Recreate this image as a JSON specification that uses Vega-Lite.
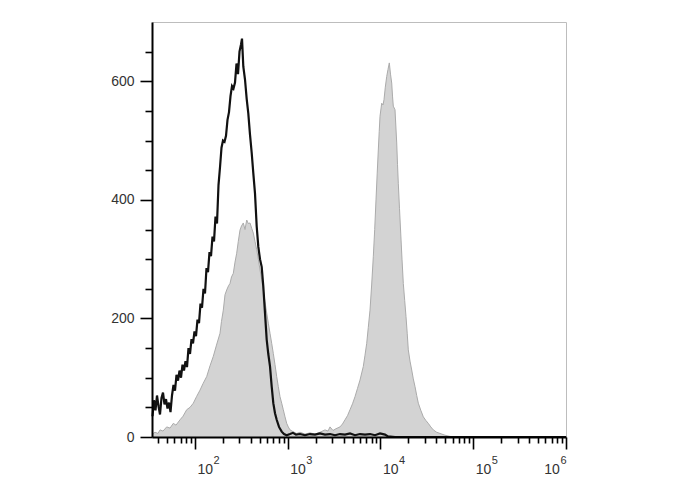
{
  "$schema": "https://vega.github.io/schema/vega-lite/v6.json",
  "autosize": "none",
  "width": 414,
  "height": 415,
  "padding": {"left": 152, "top": 22, "right": 122, "bottom": 53},
  "background": "white",
  "config": {
    "view": {"stroke": "#bdbdbd", "strokeWidth": 1},
    "axis": {"grid": false, "title": null, "labelFont": "Liberation Sans", "labelColor": "#333333", "domainColor": "#000000", "tickColor": "#000000", "labelOverlap": false, "labelBound": false, "labelFlush": false}
  },
  "datasets": {
    "gray": [
      {"log10_fl": 1.5418, "count": 5}, {"log10_fl": 1.5687, "count": 8}, {"log10_fl": 1.6011, "count": 6}, {"log10_fl": 1.6227, "count": 12},
      {"log10_fl": 1.655, "count": 10}, {"log10_fl": 1.6949, "count": 17}, {"log10_fl": 1.7305, "count": 15}, {"log10_fl": 1.7661, "count": 23},
      {"log10_fl": 1.7952, "count": 20}, {"log10_fl": 1.8383, "count": 29}, {"log10_fl": 1.8706, "count": 35}, {"log10_fl": 1.9105, "count": 46},
      {"log10_fl": 1.9461, "count": 50}, {"log10_fl": 1.9817, "count": 57}, {"log10_fl": 2.0162, "count": 68}, {"log10_fl": 2.0539, "count": 79},
      {"log10_fl": 2.0863, "count": 90}, {"log10_fl": 2.1262, "count": 102}, {"log10_fl": 2.1618, "count": 120}, {"log10_fl": 2.1973, "count": 136},
      {"log10_fl": 2.2318, "count": 155}, {"log10_fl": 2.2696, "count": 175}, {"log10_fl": 2.2857, "count": 195}, {"log10_fl": 2.3052, "count": 214},
      {"log10_fl": 2.3235, "count": 240}, {"log10_fl": 2.3418, "count": 248}, {"log10_fl": 2.3612, "count": 255}, {"log10_fl": 2.3774, "count": 259},
      {"log10_fl": 2.3936, "count": 270}, {"log10_fl": 2.413, "count": 276}, {"log10_fl": 2.4313, "count": 295}, {"log10_fl": 2.4496, "count": 310},
      {"log10_fl": 2.4669, "count": 330}, {"log10_fl": 2.4852, "count": 349}, {"log10_fl": 2.5014, "count": 356}, {"log10_fl": 2.5208, "count": 361},
      {"log10_fl": 2.5391, "count": 350}, {"log10_fl": 2.5575, "count": 366}, {"log10_fl": 2.5747, "count": 360}, {"log10_fl": 2.593, "count": 361},
      {"log10_fl": 2.6114, "count": 352}, {"log10_fl": 2.6286, "count": 344}, {"log10_fl": 2.6469, "count": 330}, {"log10_fl": 2.6653, "count": 316},
      {"log10_fl": 2.6825, "count": 300}, {"log10_fl": 2.7009, "count": 282}, {"log10_fl": 2.7192, "count": 265}, {"log10_fl": 2.7364, "count": 248},
      {"log10_fl": 2.7548, "count": 228}, {"log10_fl": 2.7731, "count": 209}, {"log10_fl": 2.7903, "count": 192}, {"log10_fl": 2.8087, "count": 175},
      {"log10_fl": 2.827, "count": 158}, {"log10_fl": 2.8443, "count": 141}, {"log10_fl": 2.8626, "count": 122}, {"log10_fl": 2.8809, "count": 102},
      {"log10_fl": 2.8982, "count": 85}, {"log10_fl": 2.9165, "count": 68}, {"log10_fl": 2.9348, "count": 57}, {"log10_fl": 2.9521, "count": 46},
      {"log10_fl": 2.9704, "count": 34}, {"log10_fl": 2.9887, "count": 23}, {"log10_fl": 3.006, "count": 17}, {"log10_fl": 3.0243, "count": 12},
      {"log10_fl": 3.0567, "count": 9}, {"log10_fl": 3.0966, "count": 6}, {"log10_fl": 3.1321, "count": 8}, {"log10_fl": 3.186, "count": 5},
      {"log10_fl": 3.24, "count": 7}, {"log10_fl": 3.2939, "count": 5}, {"log10_fl": 3.3478, "count": 8}, {"log10_fl": 3.4017, "count": 12},
      {"log10_fl": 3.434, "count": 10}, {"log10_fl": 3.4556, "count": 17}, {"log10_fl": 3.4879, "count": 11}, {"log10_fl": 3.5203, "count": 14},
      {"log10_fl": 3.5634, "count": 17}, {"log10_fl": 3.5904, "count": 22}, {"log10_fl": 3.6173, "count": 29}, {"log10_fl": 3.6443, "count": 36},
      {"log10_fl": 3.6712, "count": 46}, {"log10_fl": 3.6982, "count": 56}, {"log10_fl": 3.7251, "count": 68}, {"log10_fl": 3.7521, "count": 82},
      {"log10_fl": 3.7791, "count": 96}, {"log10_fl": 3.7974, "count": 108}, {"log10_fl": 3.8146, "count": 119}, {"log10_fl": 3.833, "count": 138},
      {"log10_fl": 3.8513, "count": 158}, {"log10_fl": 3.8685, "count": 185}, {"log10_fl": 3.8869, "count": 214}, {"log10_fl": 3.9052, "count": 258},
      {"log10_fl": 3.9225, "count": 304}, {"log10_fl": 3.9375, "count": 350}, {"log10_fl": 3.9516, "count": 400}, {"log10_fl": 3.9645, "count": 445},
      {"log10_fl": 3.9764, "count": 484}, {"log10_fl": 3.9861, "count": 515}, {"log10_fl": 3.9947, "count": 541}, {"log10_fl": 4.013, "count": 563},
      {"log10_fl": 4.027, "count": 560}, {"log10_fl": 4.0378, "count": 569}, {"log10_fl": 4.0518, "count": 590}, {"log10_fl": 4.0669, "count": 608},
      {"log10_fl": 4.081, "count": 620}, {"log10_fl": 4.095, "count": 631}, {"log10_fl": 4.1079, "count": 612}, {"log10_fl": 4.1208, "count": 597},
      {"log10_fl": 4.1295, "count": 575}, {"log10_fl": 4.1381, "count": 558}, {"log10_fl": 4.1564, "count": 552}, {"log10_fl": 4.1748, "count": 496},
      {"log10_fl": 4.1834, "count": 460}, {"log10_fl": 4.192, "count": 428}, {"log10_fl": 4.2049, "count": 385}, {"log10_fl": 4.2179, "count": 344},
      {"log10_fl": 4.2319, "count": 300}, {"log10_fl": 4.2459, "count": 259}, {"log10_fl": 4.261, "count": 230}, {"log10_fl": 4.275, "count": 203},
      {"log10_fl": 4.288, "count": 175}, {"log10_fl": 4.2998, "count": 147}, {"log10_fl": 4.3182, "count": 128}, {"log10_fl": 4.3365, "count": 113},
      {"log10_fl": 4.3537, "count": 98}, {"log10_fl": 4.3721, "count": 85}, {"log10_fl": 4.3904, "count": 70}, {"log10_fl": 4.4077, "count": 57},
      {"log10_fl": 4.4346, "count": 45}, {"log10_fl": 4.4616, "count": 34}, {"log10_fl": 4.4885, "count": 28}, {"log10_fl": 4.5154, "count": 23},
      {"log10_fl": 4.5424, "count": 17}, {"log10_fl": 4.5694, "count": 12}, {"log10_fl": 4.606, "count": 8}, {"log10_fl": 4.6416, "count": 6},
      {"log10_fl": 4.6955, "count": 3}, {"log10_fl": 4.7494, "count": 1}, {"log10_fl": 4.8033, "count": 0}, {"log10_fl": 6.0, "count": 0}
    ],
    "black": [
      {"log10_fl": 1.5418, "count": 35}, {"log10_fl": 1.558, "count": 62}, {"log10_fl": 1.5741, "count": 45}, {"log10_fl": 1.5903, "count": 70},
      {"log10_fl": 1.6065, "count": 52}, {"log10_fl": 1.6227, "count": 38}, {"log10_fl": 1.6388, "count": 66}, {"log10_fl": 1.655, "count": 75},
      {"log10_fl": 1.6712, "count": 55}, {"log10_fl": 1.6873, "count": 64}, {"log10_fl": 1.7035, "count": 48}, {"log10_fl": 1.7197, "count": 58},
      {"log10_fl": 1.7359, "count": 42}, {"log10_fl": 1.752, "count": 70}, {"log10_fl": 1.7682, "count": 88}, {"log10_fl": 1.7844, "count": 78},
      {"log10_fl": 1.8006, "count": 105}, {"log10_fl": 1.8167, "count": 95}, {"log10_fl": 1.8329, "count": 112}, {"log10_fl": 1.8491, "count": 100},
      {"log10_fl": 1.8653, "count": 122}, {"log10_fl": 1.8814, "count": 112}, {"log10_fl": 1.8976, "count": 128}, {"log10_fl": 1.9138, "count": 118},
      {"log10_fl": 1.9299, "count": 150}, {"log10_fl": 1.9461, "count": 140}, {"log10_fl": 1.9623, "count": 165}, {"log10_fl": 1.9785, "count": 158},
      {"log10_fl": 1.9946, "count": 178}, {"log10_fl": 2.0108, "count": 170}, {"log10_fl": 2.027, "count": 198}, {"log10_fl": 2.0432, "count": 192},
      {"log10_fl": 2.0593, "count": 225}, {"log10_fl": 2.0755, "count": 218}, {"log10_fl": 2.0917, "count": 250}, {"log10_fl": 2.1078, "count": 242},
      {"log10_fl": 2.124, "count": 285}, {"log10_fl": 2.1402, "count": 278}, {"log10_fl": 2.1564, "count": 312}, {"log10_fl": 2.1725, "count": 305},
      {"log10_fl": 2.1887, "count": 338}, {"log10_fl": 2.2049, "count": 330}, {"log10_fl": 2.2211, "count": 372}, {"log10_fl": 2.2372, "count": 360},
      {"log10_fl": 2.2534, "count": 425}, {"log10_fl": 2.2696, "count": 455}, {"log10_fl": 2.2857, "count": 488}, {"log10_fl": 2.3019, "count": 500},
      {"log10_fl": 2.3181, "count": 498}, {"log10_fl": 2.3343, "count": 508}, {"log10_fl": 2.3504, "count": 535}, {"log10_fl": 2.3666, "count": 548},
      {"log10_fl": 2.3828, "count": 575}, {"log10_fl": 2.399, "count": 592}, {"log10_fl": 2.4151, "count": 588}, {"log10_fl": 2.4313, "count": 598},
      {"log10_fl": 2.4475, "count": 630}, {"log10_fl": 2.4637, "count": 612}, {"log10_fl": 2.4798, "count": 650}, {"log10_fl": 2.496, "count": 662},
      {"log10_fl": 2.5068, "count": 672}, {"log10_fl": 2.5208, "count": 625}, {"log10_fl": 2.5391, "count": 603}, {"log10_fl": 2.5575, "count": 570},
      {"log10_fl": 2.5747, "count": 546}, {"log10_fl": 2.593, "count": 510}, {"log10_fl": 2.6114, "count": 479}, {"log10_fl": 2.6286, "count": 445},
      {"log10_fl": 2.6469, "count": 411}, {"log10_fl": 2.6653, "count": 355}, {"log10_fl": 2.6825, "count": 321}, {"log10_fl": 2.7009, "count": 300},
      {"log10_fl": 2.7192, "count": 287}, {"log10_fl": 2.7364, "count": 254}, {"log10_fl": 2.7548, "count": 209}, {"log10_fl": 2.7731, "count": 164},
      {"log10_fl": 2.7903, "count": 140}, {"log10_fl": 2.8087, "count": 119}, {"log10_fl": 2.827, "count": 85}, {"log10_fl": 2.8443, "count": 57},
      {"log10_fl": 2.8626, "count": 40}, {"log10_fl": 2.8809, "count": 29}, {"log10_fl": 2.9057, "count": 17}, {"log10_fl": 2.9348, "count": 9},
      {"log10_fl": 2.9596, "count": 5}, {"log10_fl": 2.9887, "count": 3}, {"log10_fl": 3.0243, "count": 5}, {"log10_fl": 3.0567, "count": 7},
      {"log10_fl": 3.089, "count": 4}, {"log10_fl": 3.1321, "count": 5}, {"log10_fl": 3.186, "count": 3}, {"log10_fl": 3.24, "count": 5},
      {"log10_fl": 3.2939, "count": 4}, {"log10_fl": 3.3478, "count": 6}, {"log10_fl": 3.4017, "count": 4}, {"log10_fl": 3.4556, "count": 5},
      {"log10_fl": 3.5095, "count": 3}, {"log10_fl": 3.5634, "count": 5}, {"log10_fl": 3.6173, "count": 4}, {"log10_fl": 3.6712, "count": 6},
      {"log10_fl": 3.7251, "count": 3}, {"log10_fl": 3.7791, "count": 5}, {"log10_fl": 3.833, "count": 4}, {"log10_fl": 3.8869, "count": 5},
      {"log10_fl": 3.9408, "count": 3}, {"log10_fl": 3.9947, "count": 6}, {"log10_fl": 4.0486, "count": 4}, {"log10_fl": 4.081, "count": 1},
      {"log10_fl": 4.1564, "count": 0}, {"log10_fl": 6.0, "count": 0}
    ]
  },
  "resolve": {"scale": {"x": "shared", "y": "shared"}, "axis": {"x": "independent", "y": "independent"}},
  "layer": [
    {
      "data": {"name": "gray"},
      "mark": {"type": "area", "color": "#d3d3d3"},
      "encoding": {
        "x": {"field": "log10_fl", "type": "quantitative",
          "scale": {"domain": [1.5364, 6], "nice": false, "zero": false},
          "axis": {"orient": "bottom", "values": [2, 3, 4, 5, 6], "labelExpr": "'10'", "zindex": 2,
            "tickSize": 12, "tickWidth": 1.6, "domainWidth": 2, "labelFontSize": 14, "labelPadding": 13, "labelBaseline": "top",
            "labelAlign": {"condition": {"test": "datum.value >= 6", "value": "right"}, "value": "left"},
            "labelOffset": {"condition": {"test": "datum.value >= 6", "value": -6.6}, "value": 2}}},
        "y": {"field": "count", "type": "quantitative",
          "scale": {"domain": [0, 700], "nice": false, "zero": true},
          "axis": {"orient": "left", "values": [0, 200, 400, 600], "zindex": 2, "tickSize": 12, "tickWidth": 1.6, "domainWidth": 2,
            "labelFontSize": 14, "labelPadding": 6}}
      }
    },
    {
      "data": {"name": "gray"},
      "mark": {"type": "line", "color": "#ababab", "strokeWidth": 1},
      "encoding": {
        "x": {"field": "log10_fl", "type": "quantitative",
          "axis": {"orient": "bottom", "zindex": 2, "domain": false, "labels": false, "tickSize": 6, "tickWidth": 1.6,
            "values": [1.60206, 1.69897, 1.77815, 1.8451, 1.90309, 1.95424,
              2.30103, 2.47712, 2.60206, 2.69897, 2.77815, 2.8451, 2.90309, 2.95424,
              3.30103, 3.47712, 3.60206, 3.69897, 3.77815, 3.8451, 3.90309, 3.95424,
              4.30103, 4.47712, 4.60206, 4.69897, 4.77815, 4.8451, 4.90309, 4.95424,
              5.30103, 5.47712, 5.60206, 5.69897, 5.77815, 5.8451, 5.90309, 5.95424]}},
        "y": {"field": "count", "type": "quantitative",
          "axis": {"orient": "left", "zindex": 2, "domain": false, "labels": false, "tickSize": 7, "tickWidth": 1.6,
            "values": [50, 100, 150, 250, 300, 350, 450, 500, 550, 650]}}
      }
    },
    {
      "data": {"name": "black"},
      "mark": {"type": "line", "color": "#111111", "strokeWidth": 2.2},
      "encoding": {
        "x": {"field": "log10_fl", "type": "quantitative",
          "axis": {"orient": "bottom", "values": [2, 3, 4, 5, 6], "format": "d", "domain": false, "ticks": false, "tickSize": 0,
            "labelFontSize": 11, "labelPadding": 17, "labelBaseline": "top",
            "labelAlign": {"condition": {"test": "datum.value >= 6", "value": "right"}, "value": "left"},
            "labelOffset": {"condition": {"test": "datum.value >= 6", "value": 0}, "value": 18}}},
        "y": {"field": "count", "type": "quantitative", "axis": null}
      }
    }
  ]
}
